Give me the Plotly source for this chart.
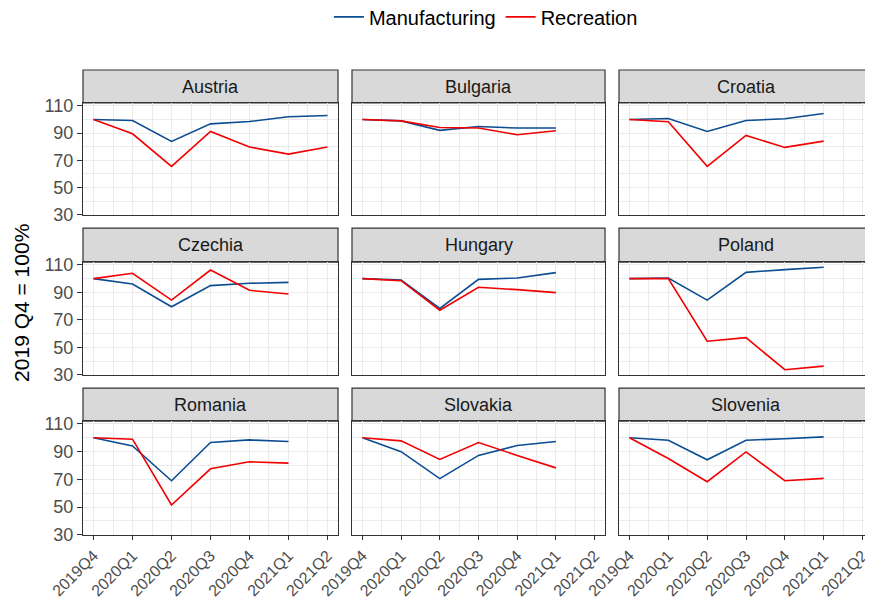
import plotly.graph_objects as go
from plotly.subplots import make_subplots

quarters = ['2019Q4', '2020Q1', '2020Q2', '2020Q3', '2020Q4', '2021Q1', '2021Q2']
countries = ['Austria', 'Bulgaria', 'Croatia',
             'Czechia', 'Hungary', 'Poland',
             'Romania', 'Slovakia', 'Slovenia']

# index values, 2019 Q4 = 100
manufacturing = {
    'Austria':  [100, 99.3, 83.9, 96.8, 98.5, 102.0, 102.9],
    'Bulgaria': [100, 99.0, 92.0, 94.9, 93.7, 93.7],
    'Croatia':  [100, 100.7, 91.2, 99.3, 100.5, 104.4],
    'Czechia':  [100, 96.1, 79.5, 94.9, 96.6, 97.3],
    'Hungary':  [100, 99.0, 78.3, 99.5, 100.5, 104.4],
    'Poland':   [100, 100.5, 84.4, 104.6, 106.6, 108.3],
    'Romania':  [100, 94.1, 69.0, 96.6, 98.5, 97.3],
    'Slovakia': [100, 90.0, 70.5, 87.3, 94.4, 97.3],
    'Slovenia': [100, 98.3, 84.1, 98.3, 99.3, 100.7],
}
recreation = {
    'Austria':  [100, 89.5, 65.6, 91.2, 79.8, 74.6, 79.8],
    'Bulgaria': [100, 99.0, 94.1, 93.7, 88.8, 91.7],
    'Croatia':  [100, 98.3, 65.6, 88.3, 79.5, 84.1],
    'Czechia':  [100, 103.9, 84.4, 106.3, 91.5, 88.8],
    'Hungary':  [100, 98.5, 77.0, 93.7, 92.0, 89.8],
    'Poland':   [100, 100.0, 54.4, 57.0, 33.7, 36.3],
    'Romania':  [100, 99.0, 51.5, 77.6, 82.7, 81.7],
    'Slovakia': [100, 97.8, 84.4, 96.6, 87.3, 78.3],
    'Slovenia': [100, 85.1, 68.3, 89.8, 69.0, 70.7],
}

blue = '#0B4C92'
red = '#F00000'
font = 'Liberation Sans, Arial, sans-serif'

fig = make_subplots(rows=3, cols=3)

# panel positions (paper coords inside the plot area)
col_dom = [[0.0, 0.3228], [0.3405, 0.6608], [0.6785, 1.0]]
row_dom = [[0.688, 0.929], [0.344, 0.587], [0.0, 0.245]]
strip_dom = [[0.929, 1.0], [0.587, 0.660], [0.245, 0.316]]

for i, c in enumerate(countries):
    r, k = i // 3, i % 3
    m = manufacturing[c]
    rc = recreation[c]
    fig.add_trace(go.Scatter(x=list(range(len(m))), y=m, mode='lines', name='Manufacturing',
                             line=dict(color=blue, width=1.6), showlegend=(i == 0),
                             legendgroup='m'), row=r + 1, col=k + 1)
    fig.add_trace(go.Scatter(x=list(range(len(rc))), y=rc, mode='lines', name='Recreation',
                             line=dict(color=red, width=1.6), showlegend=(i == 0),
                             legendgroup='r'), row=r + 1, col=k + 1)

    fig.update_xaxes(domain=col_dom[k], range=[-0.27, 6.27], automargin=False,
                     tickvals=list(range(len(quarters))), ticktext=quarters,
                     showticklabels=(r == 2), tickangle=-45,
                     ticks='outside' if r == 2 else '', ticklen=4, tickcolor='#333333',
                     showline=True, mirror=True, linecolor='#333333', linewidth=1.2,
                     showgrid=True, gridcolor='#EBEBEB', gridwidth=1.1,
                     minor=dict(dtick=0.5, tick0=0, showgrid=True, gridcolor='#EBEBEB', gridwidth=0.6),
                     zeroline=False, tickfont=dict(size=16, color='#4D4D4D', family=font),
                     row=r + 1, col=k + 1)
    fig.update_yaxes(domain=row_dom[r], range=[29.8, 112.1], automargin=False,
                     tickvals=[30, 50, 70, 90, 110],
                     showticklabels=(k == 0),
                     ticks='outside' if k == 0 else '', ticklen=5, tickcolor='#333333',
                     showline=True, mirror=True, linecolor='#333333', linewidth=1.2,
                     showgrid=True, gridcolor='#EBEBEB', gridwidth=1.1,
                     minor=dict(tickvals=[40, 60, 80, 100], showgrid=True, gridcolor='#EBEBEB', gridwidth=0.6),
                     zeroline=False, tickfont=dict(size=18, color='#4D4D4D', family=font),
                     row=r + 1, col=k + 1)

    # facet strip
    fig.add_shape(type='rect', xref='paper', yref='paper',
                  x0=col_dom[k][0], x1=col_dom[k][1], y0=strip_dom[r][0], y1=strip_dom[r][1],
                  fillcolor='#D9D9D9', line=dict(color='#333333', width=1.2), layer='below')
    fig.add_annotation(text=c, xref='paper', yref='paper',
                       x=(col_dom[k][0] + col_dom[k][1]) / 2,
                       y=(strip_dom[r][0] + strip_dom[r][1]) / 2,
                       xanchor='center', yanchor='middle',
                       showarrow=False, font=dict(size=18, color='#1A1A1A', family=font))

fig.add_annotation(text='2019 Q4 = 100%', textangle=-90, xref='paper', yref='paper',
                   x=-0.078, y=0.5, xanchor='center', yanchor='middle', showarrow=False,
                   font=dict(size=21, color='black', family=font))

# the page adds an 8px body margin, so the figure is drawn 8px smaller
fig.update_layout(
    width=865, height=592,
    margin=dict(l=75, r=0, t=62, b=65, autoexpand=False),
    plot_bgcolor='white', paper_bgcolor='white',
    font=dict(family=font),
    legend=dict(orientation='h', x=0.51, xanchor='center', y=0.985, yanchor='middle',
                yref='container', xref='paper',
                font=dict(size=20, color='black', family=font), itemwidth=30),
)

fig.write_html("out.html")
